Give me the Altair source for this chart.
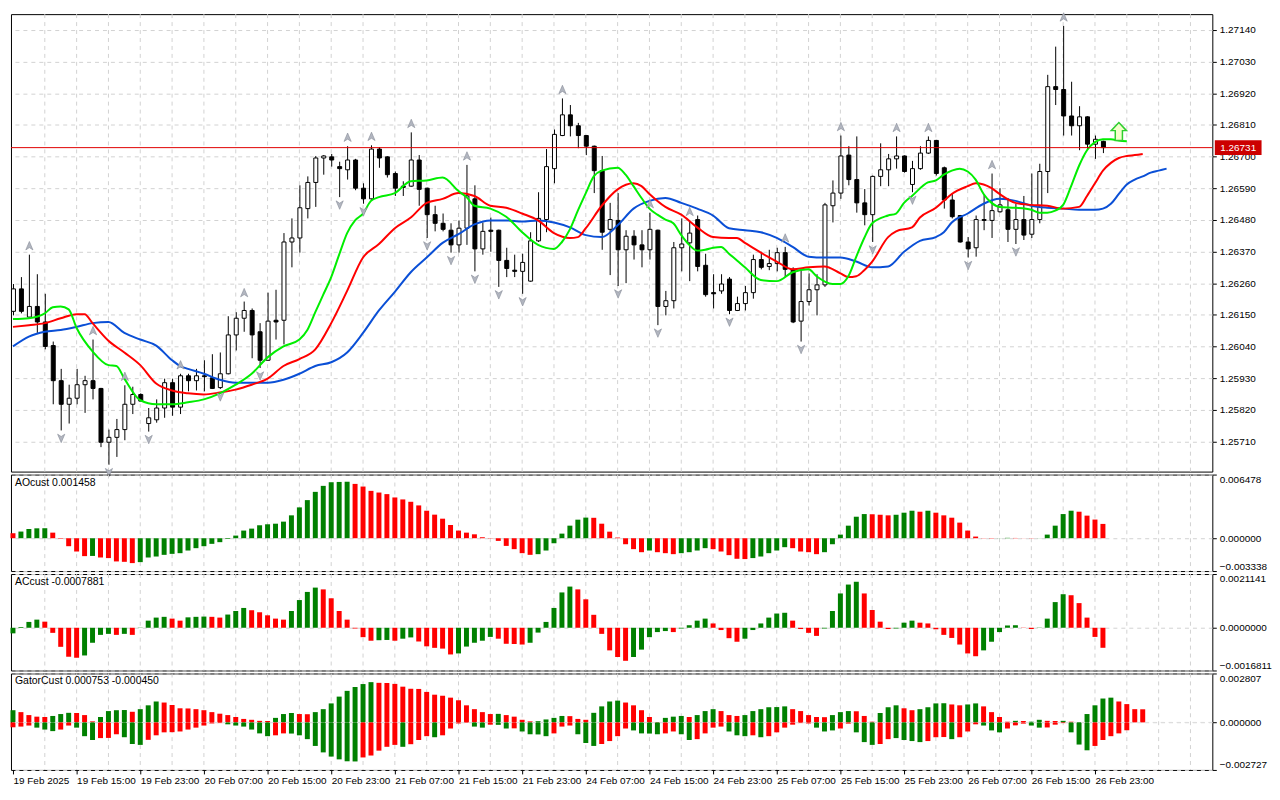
import json
import altair as alt
import pandas as pd

# ---------------- data ----------------
opens = [1.26162,1.26240,1.26142,1.26179,1.26125,1.26043,1.25921,1.25839,1.25860,1.25907,
 1.25921,1.25894,1.25707,1.25724,1.25751,1.25839,1.25873,1.25772,1.25785,1.25826,
 1.25914,1.25829,1.25938,1.25921,1.25938,1.25931,1.25897,1.25945,1.26080,1.26138,
 1.26165,1.26091,1.25992,1.26131,1.26131,1.26403,1.26417,1.26519,1.26610,1.26695,
 1.26699,1.26665,1.26654,1.26688,1.26590,1.26553,1.26726,1.26699,1.26641,1.26597,
 1.26597,1.26688,1.26590,1.26498,1.26468,1.26444,1.26393,1.26451,1.26553,1.26379,
 1.26444,1.26444,1.26339,1.26305,1.26301,1.26267,1.26407,1.26481,1.26658,1.26773,
 1.26845,1.26807,1.26773,1.26736,1.26651,1.26447,1.26478,1.26376,1.26423,1.26393,
 1.26376,1.26444,1.26179,1.26199,1.26383,1.26400,1.26481,1.26322,1.26227,1.26233,
 1.26274,1.26165,1.26189,1.26227,1.26342,1.26318,1.26328,1.26366,1.26308,1.26128,
 1.26196,1.26237,1.26254,1.26529,1.26573,1.26705,1.26620,1.26539,1.26498,1.26631,
 1.26654,1.26692,1.26702,1.26603,1.26658,1.26712,1.26756,1.26661,1.26549,1.26495,
 1.26403,1.26383,1.26481,1.26478,1.26508,1.26515,1.26447,1.26481,1.26430,1.26481,
 1.26648,1.26943,1.26933,1.26841,1.26807,1.26838,1.26743,1.26753]
highs = [1.26257,1.26281,1.26359,1.26291,1.26223,1.26057,1.25962,1.25907,1.25962,1.25938,
 1.26064,1.25896,1.25751,1.25788,1.25905,1.25900,1.25877,1.25826,1.25856,1.25928,
 1.25928,1.25945,1.25945,1.25962,1.25992,1.26013,1.26019,1.26145,1.26159,1.26196,
 1.26172,1.26121,1.26227,1.26237,1.26434,1.26485,1.26600,1.26631,1.26702,1.26705,
 1.26709,1.26682,1.26736,1.26692,1.26607,1.26739,1.26733,1.26701,1.26648,1.26614,
 1.26784,1.26705,1.26592,1.26529,1.26502,1.26468,1.26478,1.26671,1.26600,1.26471,
 1.26488,1.26446,1.26383,1.26359,1.26362,1.26437,1.26576,1.26726,1.26794,1.26902,
 1.26879,1.26817,1.26775,1.26738,1.26702,1.26539,1.26573,1.26444,1.26444,1.26444,
 1.26505,1.26446,1.26233,1.26403,1.26485,1.26478,1.26495,1.26362,1.26291,1.26291,
 1.26281,1.26213,1.26250,1.26359,1.26369,1.26376,1.26383,1.26386,1.26315,1.26308,
 1.26294,1.26291,1.26539,1.26617,1.26773,1.26736,1.26770,1.26587,1.26634,1.26746,
 1.26709,1.26770,1.26704,1.26685,1.26736,1.26770,1.26758,1.26665,1.26573,1.26497,
 1.26420,1.26495,1.26566,1.26641,1.26590,1.26556,1.26536,1.26563,1.26641,1.26675,
 1.26984,1.27082,1.27154,1.26960,1.26875,1.26840,1.26773,1.26755]
lows = [1.26148,1.26155,1.26138,1.26087,1.26030,1.25839,1.25748,1.25772,1.25839,1.25809,
 1.25856,1.25690,1.25629,1.25656,1.25714,1.25805,1.25850,1.25744,1.25775,1.25792,
 1.25799,1.25805,1.25884,1.25887,1.25884,1.25892,1.25892,1.25943,1.26026,1.26091,
 1.25999,1.25965,1.25990,1.26064,1.26047,1.26315,1.26366,1.26485,1.26525,1.26637,
 1.26665,1.26559,1.26620,1.26583,1.26536,1.26550,1.26661,1.26627,1.26563,1.26563,
 1.26595,1.26529,1.26417,1.26440,1.26440,1.26366,1.26366,1.26393,1.26301,1.26359,
 1.26369,1.26247,1.26281,1.26281,1.26223,1.26265,1.26403,1.26437,1.26607,1.26771,
 1.26770,1.26729,1.26705,1.26573,1.26376,1.26288,1.26250,1.26260,1.26342,1.26315,
 1.26342,1.26114,1.26148,1.26172,1.26301,1.26267,1.26301,1.26213,1.26172,1.26223,
 1.26152,1.26163,1.26165,1.26206,1.26308,1.26305,1.26301,1.26281,1.26121,1.26057,
 1.26182,1.26148,1.26247,1.26471,1.26553,1.26600,1.26505,1.26461,1.26403,1.26597,
 1.26597,1.26658,1.26644,1.26576,1.26654,1.26709,1.26634,1.26519,1.26485,1.26401,
 1.26349,1.26352,1.26444,1.26417,1.26505,1.26403,1.26396,1.26410,1.26417,1.26468,
 1.26573,1.26879,1.26773,1.26773,1.26722,1.26722,1.26692,1.26712]
closes = [1.26240,1.26162,1.26179,1.26125,1.26040,1.25921,1.25839,1.25860,1.25907,1.25921,
 1.25894,1.25707,1.25724,1.25751,1.25839,1.25873,1.25850,1.25792,1.25826,1.25914,
 1.25829,1.25938,1.25921,1.25938,1.25935,1.25894,1.25945,1.26080,1.26138,1.26165,
 1.26080,1.25992,1.26128,1.26125,1.26403,1.26417,1.26522,1.26610,1.26695,1.26702,
 1.26688,1.26658,1.26688,1.26590,1.26553,1.26726,1.26695,1.26637,1.26590,1.26593,
 1.26688,1.26586,1.26498,1.26468,1.26447,1.26393,1.26451,1.26563,1.26379,1.26440,
 1.26440,1.26339,1.26311,1.26301,1.26332,1.26407,1.26485,1.26665,1.26777,1.26845,
 1.26807,1.26773,1.26736,1.26651,1.26437,1.26481,1.26376,1.26423,1.26393,1.26376,
 1.26447,1.26179,1.26199,1.26383,1.26396,1.26434,1.26318,1.26220,1.26223,1.26257,
 1.26165,1.26189,1.26227,1.26342,1.26315,1.26328,1.26366,1.26308,1.26125,1.26196,
 1.26237,1.26254,1.26532,1.26573,1.26702,1.26620,1.26539,1.26498,1.26631,1.26654,
 1.26692,1.26702,1.26648,1.26658,1.26712,1.26756,1.26641,1.26549,1.26491,1.26403,
 1.26379,1.26481,1.26478,1.26512,1.26532,1.26447,1.26481,1.26427,1.26481,1.26648,
 1.26943,1.26933,1.26841,1.26807,1.26838,1.26743,1.26760,1.26731]

# Alligator lines (bar index, price)
lips_k = [0,2,4,5,6,7,8,10,12,13,14,16,18,20,22,24,26,28,30,32,34,36,37,38,39,40,41,42,43,44,
 45,46,48,50,52,54,56,57,58,60,62,64,66,68,69,70,71,72,73,74,76,77,78,79,80,81,82,83,84,85,
 86,87,88,89,90,91,92,94,96,98,100,101,103,104,105,106,107,108,110,111,112,113,115,116,117,118,119,120,121,122,
 123,124,126,128,129,130,131,132,133,134,135,136,137,138,139,140]
lips_v = [1.26135,1.26138,1.26155,1.26176,1.26179,1.26169,1.26104,1.26023,1.25975,1.25972,
 1.25928,1.25853,1.25839,1.25839,1.25846,1.25856,1.25877,1.25907,1.25945,1.26002,
 1.26040,1.26064,1.26097,1.26159,1.26220,1.26281,1.26359,1.26434,1.26478,1.26502,
 1.26546,1.26559,1.26573,1.26614,1.26617,1.26627,1.26580,1.26559,1.26529,1.26519,
 1.26491,1.26437,1.26393,1.26379,1.26403,1.26447,1.26512,1.26573,1.26631,1.26651,
 1.26661,1.26637,1.26597,1.26556,1.26519,1.26498,1.26481,1.26468,1.26427,1.26393,
 1.26373,1.26376,1.26383,1.26386,1.26362,1.26339,1.26315,1.26271,1.26267,1.26298,
 1.26308,1.26284,1.26257,1.26257,1.26284,1.26352,1.26417,1.26468,1.26495,1.26502,
 1.26539,1.26563,1.26610,1.26617,1.26637,1.26651,1.26658,1.26648,1.26620,1.26570,
 1.26539,1.26525,1.26522,1.26515,1.26505,1.26505,1.26512,1.26532,1.26597,1.26668,
 1.26722,1.26750,1.26760,1.26760,1.26756,1.26753]
teeth_k = [0,2,4,6,8,9,10,12,14,16,18,20,22,24,26,28,30,32,34,36,38,40,42,44,46,48,50,52,54,56,
 58,60,62,64,66,68,70,71,72,74,76,78,79,80,82,84,86,88,90,91,92,94,96,98,100,102,104,105,106,107,
 108,110,111,113,114,116,117,118,120,121,122,123,124,126,128,130,132,134,135,136,137,138,139,140,141,142]
teeth_v = [1.26108,1.26114,1.26121,1.26138,1.26152,1.26152,1.26121,1.26060,1.26019,1.25975,
 1.25911,1.25887,1.25877,1.25873,1.25880,1.25890,1.25907,1.25928,1.25972,1.25996,
 1.26030,1.26121,1.26233,1.26349,1.26396,1.26451,1.26488,1.26539,1.26553,1.26573,
 1.26563,1.26529,1.26522,1.26502,1.26478,1.26434,1.26417,1.26420,1.26451,1.26529,
 1.26586,1.26607,1.26597,1.26570,1.26525,1.26498,1.26454,1.26420,1.26417,1.26417,
 1.26400,1.26366,1.26335,1.26308,1.26315,1.26318,1.26294,1.26281,1.26284,1.26305,
 1.26335,1.26420,1.26440,1.26454,1.26488,1.26522,1.26546,1.26570,1.26597,1.26607,
 1.26603,1.26590,1.26570,1.26539,1.26532,1.26529,1.26519,1.26525,1.26563,1.26607,
 1.26651,1.26678,1.26695,1.26702,1.26705,1.26709]
jaw_k = [0,2,4,6,8,10,12,14,16,18,20,21,22,24,26,28,30,32,34,36,38,40,42,44,46,48,50,52,54,56,
 58,60,62,64,66,68,70,72,74,76,78,80,82,84,86,88,90,92,94,96,98,100,102,104,106,108,110,112,114,116,
 117,118,120,122,124,126,128,130,132,134,136,137,138,139,140,141,142,143,144,145]
jaw_v = [1.26040,1.26074,1.26091,1.26097,1.26108,1.26121,1.26125,1.26087,1.26064,1.26043,
 1.25992,1.25972,1.25962,1.25945,1.25924,1.25914,1.25914,1.25914,1.25924,1.25945,
 1.25972,1.25985,1.26019,1.26087,1.26165,1.26230,1.26298,1.26349,1.26400,1.26430,
 1.26464,1.26478,1.26478,1.26474,1.26478,1.26471,1.26454,1.26427,1.26420,1.26461,
 1.26519,1.26546,1.26556,1.26539,1.26519,1.26495,1.26451,1.26444,1.26437,1.26417,
 1.26386,1.26352,1.26349,1.26349,1.26335,1.26315,1.26318,1.26369,1.26407,1.26420,
 1.26437,1.26471,1.26502,1.26536,1.26553,1.26546,1.26529,1.26522,1.26519,1.26515,
 1.26515,1.26519,1.26536,1.26570,1.26603,1.26620,1.26631,1.26644,1.26651,1.26658]

fractal_up = [2,10,14,21,29,42,45,50,57,69,80,85,97,104,111,115,123,132]
fractal_down = [6,12,17,26,31,41,44,52,55,58,61,64,76,81,90,99,108,113,120,126]
signal_k = [139]
signal_price = [1.26787]
current_price = [1.26731]

ao_v = [0.00051,0.00068,0.00094,0.00101,0.00102,0.00057,-0.00005,-0.00081,-0.00135,-0.00182,
 -0.00180,-0.00196,-0.00202,-0.00236,-0.00240,-0.00253,-0.00243,-0.00196,-0.00186,-0.00169,
 -0.00159,-0.00152,-0.00125,-0.00101,-0.00081,-0.00057,-0.00040,-0.00007,0.00027,0.00078,
 0.00098,0.00132,0.00142,0.00148,0.00169,0.00233,0.00314,0.00388,0.00472,0.00533,
 0.00570,0.00573,0.00575,0.00553,0.00526,0.00482,0.00465,0.00449,0.00415,0.00395,
 0.00371,0.00334,0.00280,0.00240,0.00199,0.00135,0.00078,0.00057,0.00040,0.00010,
 -0.00003,-0.00027,-0.00078,-0.00111,-0.00152,-0.00169,-0.00162,-0.00125,-0.00051,0.00047,
 0.00128,0.00189,0.00210,0.00208,0.00148,0.00067,0.00007,-0.00061,-0.00111,-0.00142,
 -0.00125,-0.00142,-0.00152,-0.00162,-0.00152,-0.00142,-0.00125,-0.00101,-0.00111,-0.00135,
 -0.00172,-0.00209,-0.00212,-0.00202,-0.00186,-0.00152,-0.00125,-0.00091,-0.00101,-0.00135,
 -0.00142,-0.00162,-0.00142,-0.00061,0.00037,0.00128,0.00219,0.00246,0.00244,0.00239,
 0.00233,0.00239,0.00260,0.00280,0.00270,0.00280,0.00260,0.00233,0.00209,0.00159,
 0.00078,0.00017,-0.00002,-0.00003,0.00001,0.00004,0.00003,0.00001,-0.00002,-0.00001,
 0.00037,0.00128,0.00246,0.00280,0.00270,0.00230,0.00190,0.001458]
ao_c = list("RGGGGRRRRR" "GRRRRRGGGG" "GGGGGGGGGG" "GGGGGGGGGG" "GGGRRRRRRR"
            "RRRRRRRRRR" "RRRRRRGGGG" "GGGRRRRRRR" "GRRRGGGGRR" "RRRGGGGGRR"
            "RRGGGGGGRR" "RGGGRGRRRR" "RRRRGGRRRG" "GGGGRRRR")

ac_v = [-0.00022,0.00003,0.00023,0.00032,0.00024,-0.00020,-0.00075,-0.00114,-0.00118,-0.00109,
 -0.00059,-0.00028,-0.00024,-0.00028,-0.00024,-0.00028,-0.00001,0.00028,0.00040,0.00043,
 0.00036,0.00028,0.00041,0.00043,0.00044,0.00043,0.00040,0.00052,0.00066,0.00078,
 0.00069,0.00061,0.00049,0.00036,0.00032,0.00066,0.00109,0.00141,0.00158,0.00151,
 0.00116,0.00066,0.00032,-0.00003,-0.00037,-0.00051,-0.00049,-0.00048,-0.00051,-0.00043,
 -0.00038,-0.00054,-0.00073,-0.00079,-0.00082,-0.00105,-0.00101,-0.00074,-0.00059,-0.00051,
 -0.00036,-0.00043,-0.00063,-0.00064,-0.00066,-0.00059,-0.00019,0.00023,0.00078,0.00139,
 0.00162,0.00151,0.00112,0.00051,-0.00024,-0.00089,-0.00115,-0.00130,-0.00115,-0.00086,
 -0.00037,-0.00017,-0.00013,-0.00017,-0.00003,0.00010,0.00028,0.00036,0.00017,-0.00009,
 -0.00041,-0.00055,-0.00043,-0.00009,0.00017,0.00040,0.00056,0.00059,0.00028,-0.00005,
 -0.00020,-0.00032,-0.00003,0.00066,0.00135,0.00170,0.00181,0.00135,0.00070,0.00024,
 -0.00005,-0.00003,0.00020,0.00028,0.00020,0.00017,-0.00006,-0.00028,-0.00040,-0.00066,
 -0.00101,-0.00112,-0.00089,-0.00055,-0.00017,0.00009,0.00010,-0.00001,-0.00005,-0.00001,
 0.00036,0.00101,0.00132,0.00128,0.00097,0.00040,-0.00036,-0.0007881]
ac_c = list("GGGGRRRRRG" "GGGRGRGGGG" "RRGGGRRGGG" "RRRRRGGGGR" "RRRRRRGGRG"
            "GRRRRRGGGG" "GRRRRGGGGG" "GRRRRRRRGG" "GGGRGGGGRR" "RRGGGGGGRR"
            "RRGGGGGRRR" "RGGGRRRRRR" "RRGGGGGRRG" "GGGRRRRR")

gu_v = [0.00070,0.00059,0.00042,0.00033,0.00031,0.00037,0.00048,0.00055,0.00054,0.00042,
 0.00006,0.00031,0.00065,0.00070,0.00071,0.00061,0.00076,0.00098,0.00120,0.00114,
 0.00100,0.00081,0.00080,0.00076,0.00070,0.00059,0.00050,0.00042,0.00031,0.00020,
 0.00015,0.00009,0.00008,0.00026,0.00048,0.00054,0.00048,0.00047,0.00059,0.00076,
 0.00109,0.00148,0.00181,0.00203,0.00220,0.00231,0.00227,0.00226,0.00221,0.00205,
 0.00193,0.00192,0.00175,0.00159,0.00153,0.00142,0.00127,0.00098,0.00076,0.00059,
 0.00048,0.00049,0.00042,0.00033,0.00015,0.00006,0.00007,0.00017,0.00026,0.00037,
 0.00036,0.00020,0.00015,0.00055,0.00092,0.00120,0.00125,0.00114,0.00098,0.00070,
 0.00031,0.00002,0.00026,0.00033,0.00037,0.00031,0.00042,0.00065,0.00076,0.00065,
 0.00042,0.00037,0.00042,0.00065,0.00076,0.00087,0.00088,0.00092,0.00076,0.00065,
 0.00042,0.00031,0.00030,0.00042,0.00059,0.00065,0.00064,0.00037,0.00004,0.00054,
 0.00087,0.00098,0.00081,0.00070,0.00076,0.00087,0.00109,0.00110,0.00103,0.00098,
 0.00103,0.00109,0.00092,0.00059,0.00031,0.00004,0.00009,0.00008,0.00004,0.00015,
 0.00009,0.00008,0.00009,0.00004,0.00002,0.00048,0.00098,0.00137,0.00142,0.00120,
 0.00105,0.00076,0.000753]
gu_c = list("GRRRRGGGRR" "RGGGGRGGGR" "RRRRRRRRRR" "RRRGGGRRGG" "GGGGGGRRRR"
            "RRRRRRRRRR" "RGRRRRGGGG" "RRRGGGGRRR" "RRGGGRGGGR" "RRGGGGGGRR"
            "RRRGGGRRRG" "GGRRGGGGRR" "GGRRRRGRGG" "RRGRGGGGGR" "RRR")
gl_v = [-0.00028,-0.00024,-0.00018,-0.00030,-0.00041,-0.00050,-0.00041,-0.00018,-0.00030,-0.00079,
 -0.00101,-0.00090,-0.00089,-0.00068,-0.00085,-0.00124,-0.00129,-0.00100,-0.00074,-0.00057,
 -0.00056,-0.00052,-0.00041,-0.00030,-0.00018,-0.00006,-0.00004,-0.00011,-0.00018,-0.00024,
 -0.00041,-0.00063,-0.00079,-0.00074,-0.00063,-0.00064,-0.00074,-0.00096,-0.00135,-0.00172,
 -0.00196,-0.00212,-0.00223,-0.00224,-0.00201,-0.00190,-0.00162,-0.00140,-0.00129,-0.00140,
 -0.00125,-0.00101,-0.00079,-0.00085,-0.00074,-0.00035,-0.00006,-0.00002,-0.00024,-0.00030,
 -0.00013,-0.00014,-0.00035,-0.00034,-0.00052,-0.00068,-0.00069,-0.00079,-0.00063,-0.00024,
 -0.00018,-0.00068,-0.00118,-0.00135,-0.00124,-0.00107,-0.00079,-0.00035,-0.00046,-0.00063,
 -0.00064,-0.00068,-0.00063,-0.00052,-0.00068,-0.00101,-0.00096,-0.00063,-0.00030,-0.00024,
 -0.00052,-0.00074,-0.00079,-0.00074,-0.00085,-0.00079,-0.00057,-0.00030,-0.00013,-0.00004,
 -0.00006,-0.00030,-0.00052,-0.00046,-0.00035,-0.00007,-0.00057,-0.00113,-0.00129,-0.00124,
 -0.00096,-0.00090,-0.00101,-0.00107,-0.00113,-0.00107,-0.00085,-0.00084,-0.00096,-0.00085,
 -0.00052,-0.00011,-0.00018,-0.00046,-0.00057,-0.00035,-0.00017,-0.00007,-0.00018,-0.00030,
 -0.00029,-0.00013,-0.00004,-0.00057,-0.00127,-0.00160,-0.00135,-0.00101,-0.00079,-0.00063,
 -0.00045]
gl_c = list("RRRGGGRRGG" "GRRRGGGRRR" "RRRRRRRGGG" "GGGRRGGGGG" "GGGGRRRRRG"
            "RRRGRRRRGG" "RGGRGGGGRR" "RGGGRRRRGG" "GGRRGGRRRR" "GGGRGRRRRR"
            "RGGGRRGGGR" "RGGGGRRRGR" "RRGGGRRRGG" "RRRGGGRRRR" "R")

x_labels = ["19 Feb 2025", "19 Feb 15:00", "19 Feb 23:00", "20 Feb 07:00", "20 Feb 15:00",
            "20 Feb 23:00", "21 Feb 07:00", "21 Feb 15:00", "21 Feb 23:00", "24 Feb 07:00",
            "24 Feb 15:00", "24 Feb 23:00", "25 Feb 07:00", "25 Feb 15:00", "25 Feb 23:00",
            "26 Feb 07:00", "26 Feb 15:00", "26 Feb 23:00"]
price_ticks = [1.2571, 1.2582, 1.2593, 1.2604, 1.2615, 1.2626, 1.2637, 1.2648, 1.2659,
               1.2670, 1.2681, 1.2692, 1.2703, 1.2714]
ao_ticks = [-0.003338, 0.0, 0.006478]
ac_ticks = [-0.0016811, 0.0, 0.0021141]
gator_ticks = [-0.002727, 0.0, 0.002807]

# ---------------- layout / style ----------------
W = 1208
H_MAIN = 460
H_IND = 97
FONT = "Liberation Sans"
GRID = "#d2d2d2"
GREEN = "#008000"
RED = "#ff0000"

xscale = alt.Scale(domain=[-0.25, W / 8 - 0.25], nice=False, zero=False, padding=0)
col_scale = alt.Scale(domain=["G", "R"], range=[GREEN, RED])

def yaxis(vals, fmt, flush):
    return alt.Axis(orient="right", values=vals, format=fmt, title=None, grid=True,
                    gridDash=[4, 4], gridColor=GRID, domain=False, ticks=True,
                    tickColor="black", tickSize=4, labelColor="black", labelFont=FONT,
                    labelFontSize=10, labelPadding=3, labelOverlap=False, labelFlush=flush)

xax_bottom = alt.Axis(values=list(range(0, 137, 8)),
                      labelExpr=json.dumps(x_labels) + "[round(datum.value/8)]",
                      orient="bottom", grid=False, domain=False, ticks=True, tickColor="black",
                      tickSize=4, labelAlign="left", labelBaseline="top", labelPadding=2,
                      labelFont=FONT, labelFontSize=10, labelColor="black",
                      labelOverlap=False, labelBound=False, labelFlush=False, title=None)

grid_df = pd.DataFrame({"g": list(range(4, 151, 4))})

def vgrid(xax=None):
    return alt.Chart(grid_df).mark_rule(color=GRID, strokeDash=[4, 4], strokeWidth=1).encode(
        x=alt.X("g:Q", scale=xscale, axis=xax))

def title_text(t):
    return alt.Chart(pd.DataFrame({"t": [t]})).mark_text(
        align="left", baseline="top", font=FONT, fontSize=10.5, color="black").encode(
        x=alt.value(4), y=alt.value(3), text="t:N")

# ---------------- main price panel ----------------
ys = alt.Scale(domain=[1.25605, 1.27195], nice=False, zero=False)
yax = yaxis(price_ticks, ".5f", False)
X = alt.X("k:Q", scale=xscale, axis=None)

cdf = pd.DataFrame({"k": list(range(len(opens))), "open": opens, "high": highs,
                    "low": lows, "close": closes})

wicks = alt.Chart(cdf).mark_rule(color="black", strokeWidth=1, xOffset=0.5).encode(
    x=X, y=alt.Y("low:Q", scale=ys, axis=yax), y2="high:Q")
bodies = alt.Chart(cdf).mark_bar(size=4, stroke="black", strokeWidth=1, xOffset=0.5).encode(
    x=X, y=alt.Y("open:Q", scale=ys, axis=yax), y2="close:Q",
    fill=alt.condition("datum.close >= datum.open", alt.value("white"), alt.value("black")))

def ma_line(ks, vs, color):
    return alt.Chart(pd.DataFrame({"k": ks, "v": vs})).mark_line(
        color=color, strokeWidth=2, interpolate="monotone").encode(
        x=X, y=alt.Y("v:Q", scale=ys, axis=yax))

jaw = ma_line(jaw_k, jaw_v, "#0a4fd6")
teeth = ma_line(teeth_k, teeth_v, "#ff0000")
lips = ma_line(lips_k, lips_v, "#00ee00")

up_df = pd.DataFrame({"k": fractal_up, "p": [highs[i] for i in fractal_up]})
dn_df = pd.DataFrame({"k": fractal_down, "p": [lows[i] for i in fractal_down]})
UP_SHAPE = "M0,-1L0.85,1L0,0.45L-0.85,1Z"
DN_SHAPE = "M0,1L0.85,-1L0,-0.45L-0.85,-1Z"
frac_up = alt.Chart(up_df).mark_point(shape=UP_SHAPE, filled=True, color="#b2b6c0",
                                      stroke="#858a96", strokeWidth=0.6, size=72,
                                      opacity=1, yOffset=-9, xOffset=0.5).encode(
    x=X, y=alt.Y("p:Q", scale=ys, axis=yax))
frac_dn = alt.Chart(dn_df).mark_point(shape=DN_SHAPE, filled=True, color="#b2b6c0",
                                      stroke="#858a96", strokeWidth=0.6, size=72,
                                      opacity=1, yOffset=8, xOffset=0.5).encode(
    x=X, y=alt.Y("p:Q", scale=ys, axis=yax))

ARROW = "M0,-1L0.85,-0.1L0.4,-0.1L0.4,1L-0.4,1L-0.4,-0.1L-0.85,-0.1Z"
signal = alt.Chart(pd.DataFrame({"k": signal_k, "p": signal_price})).mark_point(
    shape=ARROW, filled=True, color="#f4ffcc", stroke="#2fcf2f", strokeWidth=1.5,
    size=324, opacity=1).encode(x=X, y=alt.Y("p:Q", scale=ys, axis=yax))

cp_df = pd.DataFrame({"p": current_price})
cp_line = alt.Chart(cp_df).mark_rule(color="#e00000", strokeWidth=1).encode(
    y=alt.Y("p:Q", scale=ys, axis=yax))
BOX = "M-1,-0.32L1,-0.32L1,0.32L-1,0.32Z"
cp_box = alt.Chart(cp_df).mark_point(shape=BOX, filled=True, color="#cc0000", size=2209,
                                     opacity=1, strokeWidth=0).encode(
    x=alt.value(W + 26), y=alt.Y("p:Q", scale=ys, axis=yax))
cp_text = alt.Chart(cp_df).mark_text(color="white", font=FONT, fontSize=10,
                                     align="center", baseline="middle").encode(
    x=alt.value(W + 26), y=alt.Y("p:Q", scale=ys, axis=yax),
    text=alt.Text("p:Q", format=".5f"))

main = alt.layer(vgrid(), wicks, bodies, jaw, teeth, lips, frac_up, frac_dn, signal,
                 cp_line, cp_box, cp_text).properties(width=W, height=H_MAIN)

# ---------------- indicator panels ----------------
def bar_layer(vals, cols, yscale, yax_, xax=None):
    df = pd.DataFrame({"k": list(range(len(vals))), "v": vals, "c": cols})
    return alt.Chart(df).mark_bar(size=5).encode(
        x=alt.X("k:Q", scale=xscale, axis=xax),
        y=alt.Y("v:Q", scale=yscale, axis=yax_), y2=alt.datum(0),
        color=alt.Color("c:N", scale=col_scale, legend=None))

ao_scale = alt.Scale(domain=[-0.003338, 0.006478], nice=False, zero=False)
ao_ax = yaxis(ao_ticks, ".6f", True)
ao = alt.layer(vgrid(), bar_layer(ao_v, ao_c, ao_scale, ao_ax),
               title_text("AOcust 0.001458")).properties(width=W, height=H_IND)

ac_scale = alt.Scale(domain=[-0.0016811, 0.0021141], nice=False, zero=False)
ac_ax = yaxis(ac_ticks, ".7f", True)
ac = alt.layer(vgrid(), bar_layer(ac_v, ac_c, ac_scale, ac_ax),
               title_text("ACcust -0.0007881")).properties(width=W, height=H_IND)

g_scale = alt.Scale(domain=[-0.002727, 0.002807], nice=False, zero=False)
g_ax = yaxis(gator_ticks, ".6f", True)
zero_line = alt.Chart(pd.DataFrame({"z": [0.0]})).mark_rule(
    color="#dedede", strokeDash=[4, 4], strokeWidth=1).encode(
    y=alt.Y("z:Q", scale=g_scale, axis=g_ax))
gator = alt.layer(vgrid(xax_bottom),
                  bar_layer(gu_v, gu_c, g_scale, g_ax, xax_bottom),
                  bar_layer(gl_v, gl_c, g_scale, g_ax, xax_bottom),
                  zero_line,
                  title_text("GatorCust 0.000753 -0.000450")).properties(width=W, height=H_IND)

chart = alt.vconcat(main, ao, ac, gator, spacing=3, bounds="flush",
                    padding=0, background="white").configure_view(
    stroke="black", strokeWidth=1)

chart.save("out.html", embed_options={"renderer": "svg", "actions": False})
